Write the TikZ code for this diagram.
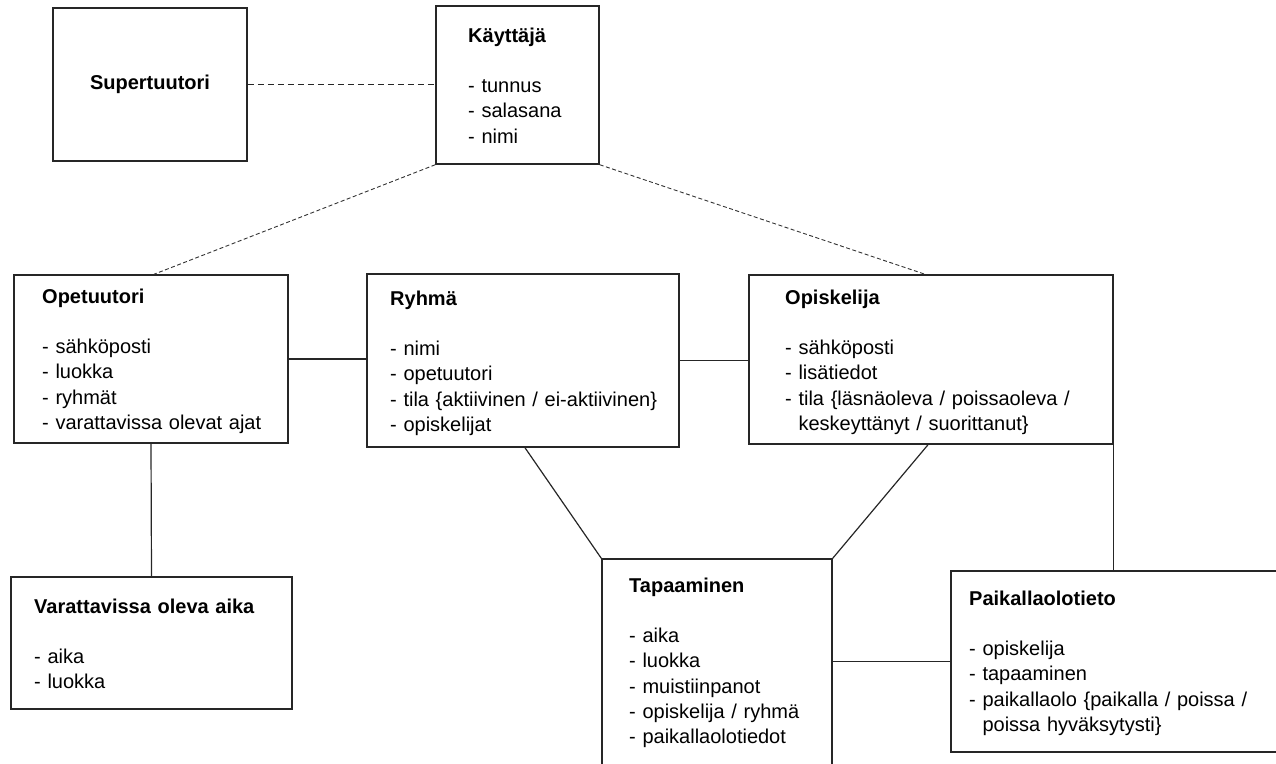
\documentclass[tikz,border=0pt]{standalone}
\usepackage{fontspec}
\setmainfont{Liberation Sans}
\begin{document}
\begin{tikzpicture}[x=1pt,y=-1pt,
  box/.style={draw=black!85, line width=1.5pt, rectangle, inner sep=0pt},
  link/.style={draw=black!85, line width=1.2pt},
  dlink/.style={draw=black!85, line width=1pt, dash pattern=on 6pt off 4pt},
  ddiag/.style={draw=black!80, line width=0.9pt, dash pattern=on 4pt off 2.5pt},
  txt/.style={anchor=base west, inner sep=0pt, text width=#1, align=left,
    font=\fontsize{20pt}{25.3pt}\selectfont},
  txt/.default=360pt,
]
\useasboundingbox (0,0) rectangle (1276,763);
\clip (0,0) rectangle (1276,763);

% entity boxes
\node[box, minimum width=194pt, minimum height=153pt,
      font=\fontsize{20pt}{24pt}\selectfont\bfseries] (sup) at (150,84.5) {Supertuutori};
\node[box, minimum width=163pt, minimum height=158pt] (kay)  at (517.5,85) {};
\node[box, minimum width=274pt, minimum height=168pt] (opet) at (151,359) {};
\node[box, minimum width=312pt, minimum height=173pt] (ryh)  at (523,360.5) {};
\node[box, minimum width=364pt, minimum height=169pt] (opis) at (931,359.5) {};
\node[box, minimum width=281pt, minimum height=132pt] (var)  at (151.5,643) {};
\node[box, minimum width=230pt, minimum height=261pt] (tap)  at (717,689.5) {};
\node[box, minimum width=369pt, minimum height=181pt] (pai)  at (1135.5,661.5) {};

% attribute lists
\node[txt] (kayt) at (468,42)
  {\textbf{Käyttäjä}\\[25.3pt] - tunnus\\ - salasana\\ - nimi};
\node[txt] (opett) at (42,303)
  {\textbf{Opetuutori}\\[25.3pt] - sähköposti\\ - luokka\\ - ryhmät\\ - varattavissa olevat ajat};
\node[txt] (ryht) at (390,305)
  {\textbf{Ryhmä}\\[25.3pt] - nimi\\ - opetuutori\\ - tila \{aktiivinen / ei-aktiivinen\}\\ - opiskelijat};
\node[txt] (opist) at (785,304)
  {\textbf{Opiskelija}\\[25.3pt] - sähköposti\\ - lisätiedot\\ - tila \{läsnäoleva / poissaoleva /\\ \hphantom{- }keskeyttänyt / suorittanut\}};
\node[txt] (vart) at (34,613)
  {\textbf{Varattavissa oleva aika}\\[25.3pt] - aika\\ - luokka};
\node[txt] (tapt) at (629,592)
  {\textbf{Tapaaminen}\\[25.3pt] - aika\\ - luokka\\ - muistiinpanot\\ - opiskelija / ryhmä\\ - paikallaolotiedot};
\node[txt] (pait) at (969,605)
  {\textbf{Paikallaolotieto}\\[25.3pt] - opiskelija\\ - tapaaminen\\ - paikallaolo \{paikalla / poissa /\\ \hphantom{- }poissa hyväksytysti\}};

% relations
\draw[dlink] (sup.east) -- (kay.west |- sup.east);
\draw[ddiag] (kay.south west) -- ([xshift=3pt]opet.north);
\draw[ddiag] (kay.south east) -- ([xshift=-6pt]opis.north);
\draw[link] (opet.east) -- (ryh.west |- opet.east);
\draw[link] (ryh.east) -- (opis.west |- ryh.east);
\draw[link] (opet.south) -- (var.north);
\draw[link] ([xshift=2pt]ryh.south) -- (tap.north west);
\draw[link] ([xshift=-3pt]opis.south) -- (tap.north east);
\draw[link] (opis.south east) -- (opis.south east |- pai.north);
\draw[link] (pai.west) -- (tap.east |- pai.west);
\end{tikzpicture}
\end{document}
